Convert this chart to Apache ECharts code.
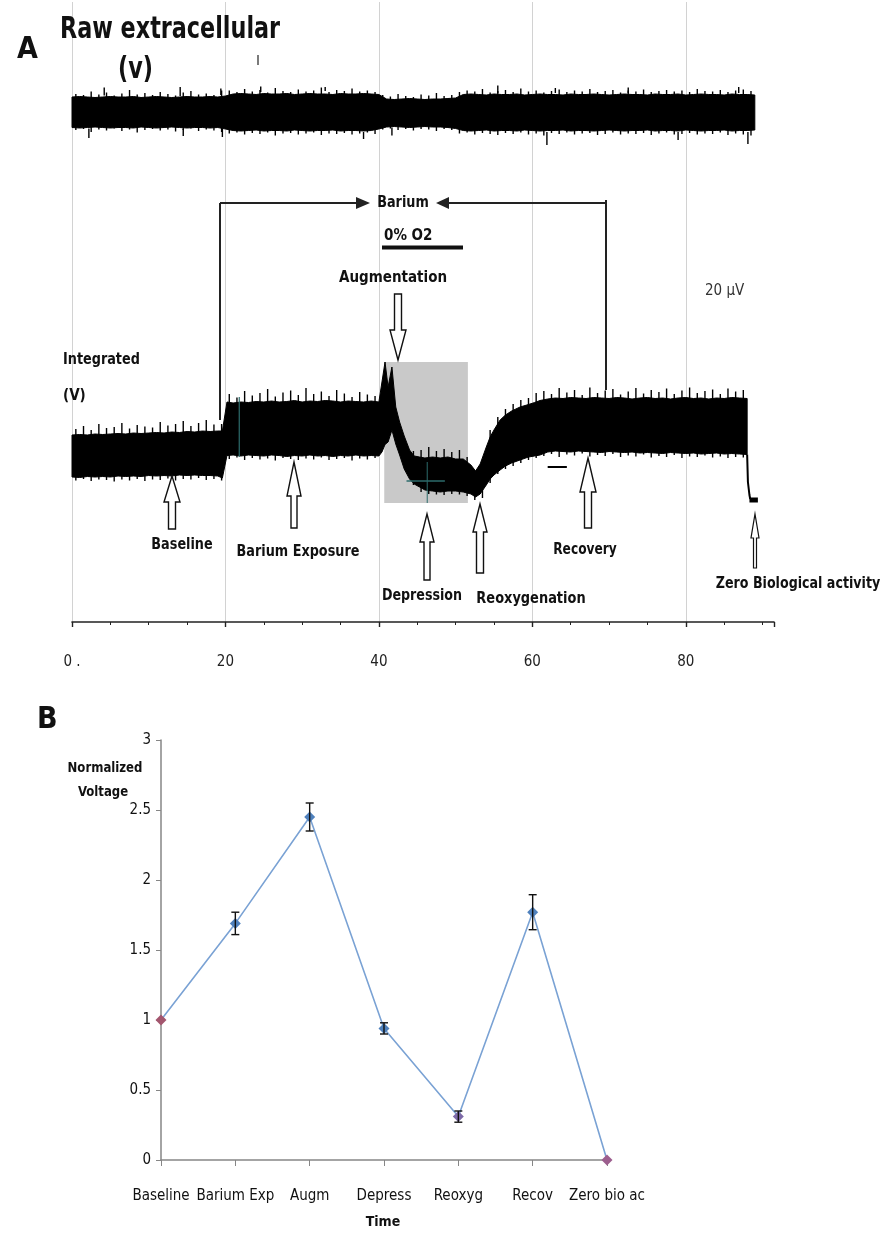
<!DOCTYPE html>
<html><head><meta charset="utf-8">
<script src="https://cdn.jsdelivr.net/npm/echarts@6/dist/echarts.min.js"></script>
<style>html,body{margin:0;padding:0;background:#fff}#c{width:886px;height:1236px}</style>
</head><body><div id="c"></div>
<script>
// ---------------- DATA ----------------
// Panel A: time axis ticks
const timeTicks = [0, 20, 40, 60, 80];
const timeTickLabels = ['0 .', '20', '40', '60', '80'];

// Raw extracellular trace envelope (one sample per time unit from t=0)
const rawStart = 0, rawStep = 1;
const rawTop = [105.0,105.1,105.0,104.9,105.0,105.1,105.0,105.0,105.1,104.9,105.0,105.1,105.0,104.9,105.0,105.1,105.0,105.0,105.1,105.0,105.2,
  105.6,105.7,105.6,105.5,105.7,105.6,105.6,105.7,105.5,105.6,105.7,105.6,105.6,105.5,105.7,105.6,105.6,105.7,105.6,105.5,
  104.6,104.5,104.6,104.7,104.6,104.5,104.6,104.6,104.7,104.8,
  105.5,105.6,105.5,105.4,105.6,105.5,105.5,105.6,105.4,105.5,105.6,105.5,105.5,105.4,105.6,105.5,105.5,105.6,105.5,105.4,105.5,105.6,105.5,105.5,105.4,105.6,105.5,105.5,105.6,105.4,105.5,105.6,105.5,105.5,105.4,105.6,105.5,105.5,105.4];
const rawBottom = [98.9,98.8,98.9,99.0,98.9,98.8,98.9,98.9,98.8,99.0,98.9,98.8,98.9,99.0,98.9,98.8,98.9,98.9,98.8,98.9,98.6,
  98.3,98.2,98.3,98.4,98.2,98.3,98.3,98.2,98.4,98.3,98.2,98.3,98.3,98.4,98.2,98.3,98.3,98.2,98.3,98.6,
  99.0,99.1,99.0,98.9,99.0,99.1,99.0,99.0,98.9,98.7,
  98.3,98.2,98.3,98.4,98.2,98.3,98.3,98.2,98.4,98.3,98.2,98.3,98.3,98.4,98.2,98.3,98.3,98.2,98.3,98.4,98.3,98.2,98.3,98.3,98.4,98.2,98.3,98.3,98.2,98.4,98.3,98.2,98.3,98.3,98.4,98.2,98.3,98.3,98.4];
// raw trace edge noise tips, at t = 0.5, 1.5, ...
const rawTopTips = [105.6,105.4,106.1,105.5,105.9,105.3,105.7,106.4,105.5,105.8,105.4,106.0,105.6,105.3,105.9,106.2,105.5,105.7,105.4,106.3,
  106.3,106.0,106.6,106.1,106.4,105.9,106.8,106.2,106.0,106.5,106.1,106.3,106.9,106.0,106.4,106.2,106.7,106.1,106.3,106.0,
  105.4,105.1,105.6,105.2,105.0,105.5,105.3,105.8,105.2,105.4,
  106.0,106.3,106.1,106.6,105.9,106.2,106.4,106.0,106.7,106.1,106.3,105.9,106.2,106.5,106.0,106.3,106.1,106.6,106.0,106.2,106.4,105.9,106.3,106.1,106.5,106.0,106.2,106.4,106.1,106.3,106.0,106.6,106.2,106.1,106.4,106.0,106.3,106.5,106.2];
const rawBottomTips = [98.4,98.6,98.0,98.5,98.3,98.7,98.2,98.5,97.9,98.4,98.6,98.3,98.5,98.1,98.4,98.7,98.2,98.5,98.3,98.0,
  97.7,97.9,97.5,97.8,97.6,97.9,97.3,97.7,97.8,97.5,97.7,97.9,97.4,97.7,97.6,97.8,97.5,97.7,97.9,97.6,
  98.5,98.7,98.4,98.6,98.3,98.6,98.5,98.2,98.6,98.4,
  97.7,97.9,97.5,97.8,97.6,97.4,97.8,97.6,97.9,97.5,97.7,97.3,97.8,97.6,97.9,97.5,97.7,97.8,97.4,97.6,97.9,97.5,97.7,97.6,97.8,97.4,97.7,97.9,97.5,97.6,97.8,97.5,97.7,97.6,97.9,97.4,97.7,97.5,97.3];
// larger isolated raw spikes: [time, from, to]
const rawSpikes = [[4.2,105.3,106.9],[14.1,105.2,107.0],[19.4,105.4,106.7],[24.6,106.0,107.1],[33.0,106.2,107.0],[55.5,105.8,107.3],[63.0,105.8,106.8],[72.5,105.8,106.9],[86.9,105.8,107.0],
  [2.2,98.7,96.8],[14.5,98.6,97.2],[19.6,98.7,97.0],[38.0,98.0,96.6],[41.7,98.9,97.3],[61.9,98.0,95.4],[79.0,98.0,96.4],[88.1,98.0,95.6]];

// Integrated trace envelope
const intX = [0,1,2,3,4,5,6,7,8,9,10,11,12,13,14,15,16,17,18,19,19.6,20.2,
  21,22,23,24,25,26,27,28,29,30,31,32,33,34,35,36,37,38,39,40,
  40.4,40.8,41.2,41.7,42.2,42.7,43.3,44,44.6,45.3,
  46,47,48,49,50,51,52,
  52.6,53.2,54,54.5,55,55.8,56.5,57.3,58.4,59.5,60.3,61,
  62,63,64,65,66,67,68,69,70,71,72,73,74,75,76,77,78,79,80,81,82,83,84,85,86,87,88];
const intTop = [37.4,37.5,37.4,37.6,37.5,37.6,37.7,37.6,37.8,37.7,37.8,37.9,37.8,38.0,37.9,38.1,38.0,38.2,38.1,38.2,38.2,44.0,
  43.8,44.0,43.9,44.1,44.0,44.2,44.0,44.1,44.3,44.0,44.2,44.1,44.3,44.2,44.0,44.2,44.1,44.0,44.2,44.0,
  48.0,52.0,47.0,51.0,43.0,40.0,37.2,34.4,33.2,33.0,
  32.8,33.0,32.8,33.0,32.6,32.6,31.4,
  30.2,31.6,35.0,37.0,38.4,40.4,41.4,42.2,43.0,43.5,43.9,44.3,
  44.6,44.8,44.7,44.9,44.8,44.7,44.9,44.8,44.7,44.9,44.8,44.6,44.8,44.9,44.7,44.8,44.6,44.8,44.9,44.7,44.8,44.6,44.8,44.7,44.9,44.8,44.7];
const intBottom = [29.0,28.9,29.1,29.0,29.1,29.0,29.2,29.1,29.2,29.1,29.3,29.2,29.3,29.2,29.4,29.3,29.4,29.3,29.3,29.2,28.8,33.3,
  33.4,33.2,33.4,33.3,33.2,33.4,33.3,33.1,33.3,33.2,33.4,33.2,33.3,33.1,33.3,33.2,33.4,33.2,33.3,33.2,
  34.0,35.5,36.0,38.4,35.6,33.4,30.6,28.6,27.6,27.0,
  26.4,26.2,26.0,26.2,26.2,26.0,25.6,
  25.0,25.6,27.4,28.6,29.4,30.4,31.2,31.8,32.4,33.0,33.2,33.4,
  34.0,34.2,34.1,34.0,34.2,34.1,34.0,33.9,34.1,34.0,33.9,34.0,33.8,33.9,33.8,33.7,33.9,33.8,33.7,33.8,33.6,33.7,33.8,33.6,33.7,33.6,33.5];
// integrated trace edge noise tips, at t = 0.5, 1.5, ... (null = none)
const intTopTips = [38.6,39.2,38.4,39.6,38.8,39.0,39.8,38.7,39.4,39.1,38.9,40.0,39.3,39.6,40.2,39.2,39.8,40.4,39.5,39.6,
  45.6,44.9,46.2,45.3,45.8,46.6,45.1,45.9,46.3,45.4,46.8,45.6,46.1,45.2,46.4,45.7,45.0,46.0,45.5,45.2,
  null,null,null,null,34.2,34.4,35.0,34.2,34.6,34.0,34.4,33.0,null,null,
  38.4,41.0,42.6,43.6,44.4,44.8,45.8,
  46.2,45.6,46.8,45.9,46.4,45.4,46.9,45.8,46.3,46.6,45.5,46.1,46.8,45.7,46.4,46.0,46.7,45.6,46.3,46.9,45.8,46.2,46.5,45.6,46.7,46.1,46.4];
const intBottomTips = [28.3,28.6,28.2,28.5,28.4,28.1,28.5,28.3,28.6,28.2,28.5,28.4,28.7,28.3,28.6,28.5,28.8,28.4,28.6,28.3,
  32.6,32.9,32.4,32.8,32.5,32.7,32.3,32.8,32.6,32.4,32.7,32.5,32.9,32.4,32.6,32.8,32.3,32.7,32.5,32.8,
  null,null,null,null,27.4,26.0,25.6,25.5,25.4,25.6,25.5,25.2,24.4,24.8,
  27.8,29.6,30.6,31.2,31.8,32.4,32.8,
  33.2,33.6,33.0,33.5,33.3,33.7,33.1,33.4,33.2,33.6,33.0,33.3,33.1,33.5,32.9,33.2,33.0,33.4,32.8,33.1,33.0,33.3,32.9,33.1,32.8,33.0,32.9];
// loss of activity at the end: [time, value]
const zeroTrace = [[88.0,33.5],[88.1,28.0],[88.3,25.4],[88.4,24.6]];
const zeroBlock = [88.3, 89.4, 23.9, 24.9];
// hypoxia (0% O2) window shading: [t0, t1, vLow, vHigh]
const hypoxiaBox = [40.7, 51.6, 23.8, 52.0];
// cursor marks in the record
const cursorH = [[43.6,28.2],[48.6,28.2]];
const cursorV = [[46.3,32.0],[46.3,23.8]];
const cursorB = [[21.8,45.0],[21.8,33.0]];
const markDash = [[62.0,31.0],[64.5,31.0]];

// Panel B: normalized voltage by phase
const phases = ['Baseline','Barium Exp','Augm','Depress','Reoxyg','Recov','Zero bio ac'];
const normVoltage = [1.0, 1.69, 2.45, 0.94, 0.31, 1.77, 0.0];
const normErr = [0.0, 0.08, 0.10, 0.04, 0.04, 0.125, 0.0];
const markerColors = ['#a3566e','#4f81bd','#4f81bd','#4f81bd','#7d6aa8','#4f81bd','#9c5e8e'];

// ---------------- CHART ----------------
const F = "'Liberation Sans Narrow','DejaVu Sans Condensed','Liberation Sans',sans-serif";
const chart = echarts.init(document.getElementById('c'), null, {renderer: 'canvas'});

function bandItem(xs, tops, bottoms, color) {
  return function (params, api) {
    const pts = [];
    for (let i = 0; i < xs.length; i++) pts.push(api.coord([xs[i], tops[i]]));
    for (let i = xs.length - 1; i >= 0; i--) pts.push(api.coord([xs[i], bottoms[i]]));
    return {type: 'polygon', shape: {points: pts}, style: {fill: color, stroke: color, lineWidth: 1}};
  };
}
const rawX = rawTop.map((_, i) => rawStart + i * rawStep);
function tipsData(tips, start, dir, len) {
  const out = [];
  tips.forEach((t, i) => { if (t !== null) out.push([start + i, t, t - dir * len]); });
  return out;
}
function spikeItem(params, api) {
  const a = api.coord([api.value(0), api.value(1)]);
  const b = api.coord([api.value(0), api.value(2)]);
  return {type: 'line', shape: {x1: a[0], y1: a[1], x2: b[0], y2: b[1]}, style: {stroke: '#000', lineWidth: 1.4}};
}
const spikeSeries = (data) => ({type: 'custom', xAxisIndex: 0, yAxisIndex: 0, z: 2, data: data, renderItem: spikeItem});

function hollowArrow(cx, tip, end, up, hw, sw, hl, lw) {
  const d = up ? 1 : -1;
  const pts = [[cx, tip],[cx + hw, tip + d*hl],[cx + sw, tip + d*hl],[cx + sw, end],[cx - sw, end],[cx - sw, tip + d*hl],[cx - hw, tip + d*hl]];
  return {type: 'polygon', shape: {points: pts}, style: {fill: '#fff', stroke: '#111', lineWidth: lw || 1.4}, z: 50};
}
function txt(t, x, y, size, bold, align, sx, color) {
  return {type: 'text', x: x, y: y, scaleX: sx || 1, z: 60,
    style: {text: t, font: (bold ? 'bold ' : '') + size + 'px ' + F, fill: color || '#111', align: align || 'center', verticalAlign: 'middle'}};
}
function seg(x1, y1, x2, y2, w) {
  return {type: 'line', z: 40, shape: {x1, y1, x2, y2}, style: {stroke: '#222', lineWidth: w || 2}};
}
function tri(pts) { return {type: 'polygon', z: 41, shape: {points: pts}, style: {fill: '#222'}}; }

const option = {
  animation: false,
  backgroundColor: '#fff',
  grid: [
    {left: 72, top: 2, width: 702, height: 620},
    {left: 161, top: 740, width: 446, height: 420}
  ],
  xAxis: [
    {type: 'value', gridIndex: 0, min: 0, max: 91.5, interval: 20,
      axisLine: {show: true, onZero: false, lineStyle: {color: '#222', width: 1.6}},
      axisTick: {show: true, length: 5, lineStyle: {color: '#222', width: 1.4}},
      minorTick: {show: true, splitNumber: 4, length: 3, lineStyle: {color: '#222'}},
      axisLabel: {margin: 33, fontSize: 15, color: '#222', fontFamily: F, showMaxLabel: false,
        formatter: v => { const i = timeTicks.indexOf(v); return i >= 0 ? timeTickLabels[i] : ''; }},
      splitLine: {show: true, showMaxLine: false, lineStyle: {color: '#d2d2d2', width: 1}}},
    {type: 'category', gridIndex: 1, data: phases, boundaryGap: false,
      axisLine: {lineStyle: {color: '#868686', width: 1.5}},
      axisTick: {show: true, length: 6, lineStyle: {color: '#868686'}},
      axisLabel: {margin: 29, fontSize: 15, color: '#111', fontFamily: F, interval: 0}}
  ],
  yAxis: [
    {type: 'value', gridIndex: 0, min: 0, max: 124, show: false, splitLine: {show: false}},
    {type: 'value', gridIndex: 1, min: 0, max: 3, interval: 0.5,
      axisLine: {show: true, lineStyle: {color: '#868686', width: 1.5}},
      axisTick: {show: true, length: 5, lineStyle: {color: '#868686'}},
      axisLabel: {margin: 10, fontSize: 15, color: '#111', fontFamily: F},
      splitLine: {show: false}}
  ],
  series: [
    {type: 'custom', xAxisIndex: 0, yAxisIndex: 0, z: 1, data: [0],
      renderItem: (p, api) => {
        const a = api.coord([hypoxiaBox[0], hypoxiaBox[3]]), b = api.coord([hypoxiaBox[1], hypoxiaBox[2]]);
        return {type: 'rect', shape: {x: a[0], y: a[1], width: b[0] - a[0], height: b[1] - a[1]}, style: {fill: '#c9c9c9'}};
      }},
    {type: 'custom', xAxisIndex: 0, yAxisIndex: 0, z: 2, data: [0], renderItem: bandItem(rawX, rawTop, rawBottom, '#000')},
    spikeSeries(tipsData(rawTopTips, 0.5, 1, 2)),
    spikeSeries(tipsData(rawBottomTips, 0.5, -1, 2)),
    spikeSeries(rawSpikes),
    {type: 'custom', xAxisIndex: 0, yAxisIndex: 0, z: 2, data: [0], renderItem: bandItem(intX, intTop, intBottom, '#000')},
    spikeSeries(tipsData(intTopTips, 0.5, 1, 3)),
    spikeSeries(tipsData(intBottomTips, 0.5, -1, 3)),
    {type: 'line', xAxisIndex: 0, yAxisIndex: 0, z: 2, data: zeroTrace, symbol: 'none', lineStyle: {color: '#000', width: 2}},
    {type: 'custom', xAxisIndex: 0, yAxisIndex: 0, z: 2, data: [0],
      renderItem: (p, api) => {
        const a = api.coord([zeroBlock[0], zeroBlock[3]]), b = api.coord([zeroBlock[1], zeroBlock[2]]);
        return {type: 'rect', shape: {x: a[0], y: a[1], width: b[0] - a[0], height: b[1] - a[1]}, style: {fill: '#000'}};
      }},
    {type: 'line', xAxisIndex: 0, yAxisIndex: 0, z: 3, data: cursorH, symbol: 'none', lineStyle: {color: '#2d6b6b', width: 1.5}},
    {type: 'line', xAxisIndex: 0, yAxisIndex: 0, z: 3, data: cursorV, symbol: 'none', lineStyle: {color: '#2d6b6b', width: 1}},
    {type: 'line', xAxisIndex: 0, yAxisIndex: 0, z: 3, data: cursorB, symbol: 'none', lineStyle: {color: '#2d6b6b', width: 1.2}},
    {type: 'line', xAxisIndex: 0, yAxisIndex: 0, z: 3, data: markDash, symbol: 'none', lineStyle: {color: '#000', width: 2}},
    // Panel B
    {type: 'line', xAxisIndex: 1, yAxisIndex: 1, z: 3,
      data: normVoltage.map((v, i) => ({value: v, itemStyle: {color: markerColors[i]}})),
      symbol: 'diamond', symbolSize: 11,
      lineStyle: {color: '#7aa2d4', width: 1.6}, itemStyle: {color: '#4f81bd'}},
    {type: 'custom', xAxisIndex: 1, yAxisIndex: 1, z: 4,
      data: normVoltage.map((v, i) => [i, v - normErr[i], v + normErr[i]]).filter((d, i) => normErr[i] > 0),
      renderItem: (p, api) => {
        const lo = api.coord([api.value(0), api.value(1)]), hi = api.coord([api.value(0), api.value(2)]);
        const c = 4, st = {stroke: '#111', lineWidth: 1.4};
        return {type: 'group', children: [
          {type: 'line', shape: {x1: lo[0], y1: lo[1], x2: hi[0], y2: hi[1]}, style: st},
          {type: 'line', shape: {x1: lo[0] - c, y1: lo[1], x2: lo[0] + c, y2: lo[1]}, style: st},
          {type: 'line', shape: {x1: hi[0] - c, y1: hi[1], x2: hi[0] + c, y2: hi[1]}, style: st}
        ]};
      }}
  ],
  graphic: [
    txt('A', 17, 50, 30, true, 'left'),
    txt('Raw extracellular', 60, 30, 31, true, 'left', 0.8),
    txt('(v)', 118, 70, 31, true, 'left', 0.8),
    seg(258, 55, 258, 65, 1.2),
    // Barium bracket
    seg(220, 203, 220, 420, 2), seg(220, 203, 360, 203, 2.2), tri([[370,203],[356,197],[356,209]]),
    txt('Barium', 403, 203, 15, true, 'center', 0.95),
    seg(606, 200, 606, 390, 2), seg(606, 203, 445, 203, 2.2), tri([[436,203],[449,197],[449,209]]),
    txt('0% O2', 384, 236, 15, true, 'left'),
    {type: 'rect', z: 40, shape: {x: 382, y: 245.5, width: 81, height: 4}, style: {fill: '#111'}},
    txt('Augmentation', 393, 278, 15, true),
    hollowArrow(398, 360, 294, false, 8, 3.5, 30, 1.4),
    txt('20 \u03bcV', 705, 291, 15, false, 'left', 1, '#333'),
    txt('Integrated', 63, 360, 15, true, 'left', 0.95),
    txt('(V)', 63, 396, 15, true, 'left'),
    hollowArrow(172, 476, 529, true, 8, 3.5, 26, 1.4),
    txt('Baseline', 182, 545, 16, true, 'center', 0.89),
    hollowArrow(294, 462, 528, true, 7, 3, 34, 1.4),
    txt('Barium Exposure', 298, 552, 16, true, 'center', 0.89),
    hollowArrow(427, 514, 580, true, 7, 3, 28, 1.4),
    txt('Depression', 422, 596, 16, true, 'center', 0.88),
    hollowArrow(480, 504, 573, true, 7, 3.5, 28, 1.4),
    txt('Reoxygenation', 531, 599, 16, true, 'center', 0.9),
    hollowArrow(588, 458, 528, true, 8, 3.5, 34, 1.4),
    txt('Recovery', 585, 550, 16, true, 'center', 0.85),
    hollowArrow(755, 514, 568, true, 4, 1.5, 24, 1.2),
    txt('Zero Biological activity', 798, 584, 16, true, 'center', 0.88),
    // Panel B labels
    txt('B', 37, 720, 30, true, 'left'),
    txt('Normalized', 105, 768, 14, true, 'center', 0.93),
    txt('Voltage', 103, 792, 14, true, 'center', 0.93),
    txt('Time', 383, 1222, 14, true)
  ]
};
chart.setOption(option);
</script></body></html>
